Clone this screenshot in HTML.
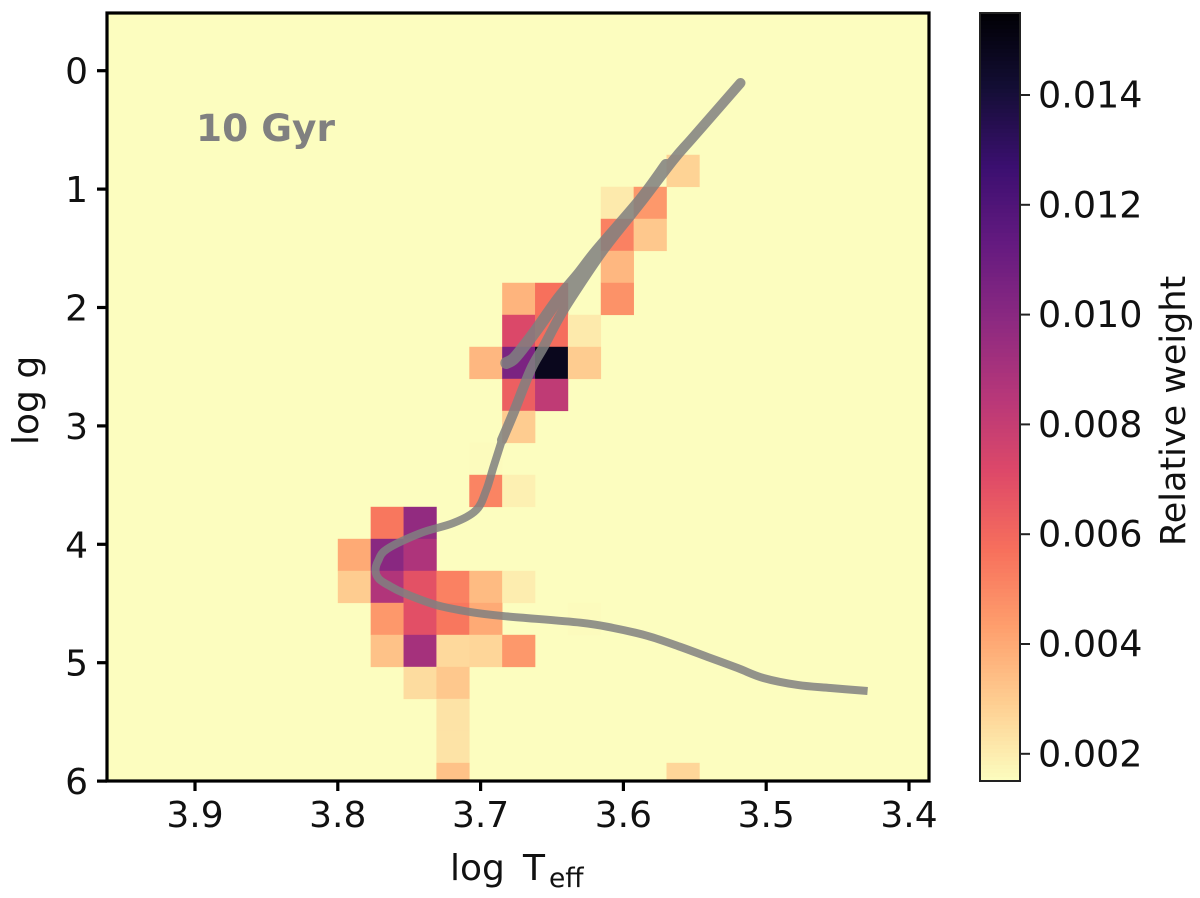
<!DOCTYPE html>
<html lang="en">
<head>
<meta charset="utf-8">
<title>10 Gyr log g vs log Teff weight map</title>
<style>
html,body{margin:0;padding:0;background:#fff;}
svg{display:block;font-family:"DejaVu Sans",sans-serif;fill:#111;}
</style>
</head>
<body>
<svg id="chart" xmlns="http://www.w3.org/2000/svg" width="1200" height="898" viewBox="0 0 1200 898">
<defs><clipPath id="axes-clip"><rect x="107" y="13" width="822" height="768"/></clipPath></defs>
<g id="plot" clip-path="url(#axes-clip)"></g>
<g id="frame"></g>
<text x="196" y="141" font-size="37.5" font-weight="bold" style="fill:#808080">10 Gyr</text>
<text transform="translate(38,445) rotate(-90)" font-size="36">log g</text>
<g>
<text x="450" y="880" font-size="36">log</text>
<text x="523" y="880" font-size="36">T</text>
<text x="549" y="887" font-size="26.5">eff</text>
</g>
<g id="colorbar"></g>
<text transform="translate(1185,546) rotate(-90)" font-size="35">Relative weight</text>
</svg>
<script>
// Axis ticks
const xTicks = [3.9, 3.8, 3.7, 3.6, 3.5, 3.4];
const yTicks = [0, 1, 2, 3, 4, 5, 6];
const colorTicks = [0.002, 0.004, 0.006, 0.008, 0.010, 0.012, 0.014];

// Histogram bins (first edge and width, in data units)
const logTeffFirstEdge = 3.8;
const logTeffBinWidth = 0.02302;
const logGFirstEdge = 0.71;
const logGBinWidth = 0.2703;

// Relative weight per bin: rows increase in log g, columns decrease in log Teff
const weights = [
  [0,0,0,0,0,0,0,0,0,0,.0028],
  [0,0,0,0,0,0,0,0,.0021,.0045,0],
  [0,0,0,0,0,0,0,0,.0052,.0031,0],
  [0,0,0,0,0,0,0,0,.0036,0,0],
  [0,0,0,0,0,.0037,.0057,0,.0047,0,0],
  [0,0,0,0,0,.0072,.0058,.0021,0,0,0],
  [0,0,0,0,.0036,.0105,.0148,.0030,0,0,0],
  [0,0,0,0,0,.0063,.0082,0,0,0,0],
  [0,0,0,0,0,.0030,0,0,0,0,0],
  [0,0,0,0,.00158,0,0,0,0,0,0],
  [0,0,0,0,.0051,.0019,0,0,0,0,0],
  [0,.0055,.0097,0,0,0,0,0,0,0,0],
  [.0040,.0100,.0088,0,0,0,0,0,0,0,0],
  [.0030,.0087,.0068,.0052,.0035,.0020,0,0,0,0,0],
  [0,.0045,.0069,.0055,.0040,0,0,.00156,0,0,0],
  [0,.0033,.0091,.0026,.0027,.0045,0,0,0,0,0],
  [0,0,.0025,.0031,0,0,0,0,0,0,0],
  [0,0,0,.0023,0,0,0,0,0,0,0],
  [0,0,0,.0023,0,0,0,0,0,0,0],
  [0,0,0,.0033,0,0,0,0,0,0,.0027]
];

// Isochrone main sequence and subgiant section
const lowerLogTeff = [3.429,3.455,3.478,3.502,3.520,3.541,3.560,3.583,3.607,3.630,3.684,3.707,3.731,3.754,3.7648,3.7711,3.7736,3.7718,3.7655,3.742,3.719,3.703,3.696,3.691,3.685];
const lowerLogG = [5.239,5.214,5.188,5.129,5.045,4.952,4.867,4.774,4.707,4.662,4.606,4.572,4.513,4.411,4.344,4.293,4.225,4.141,4.040,3.905,3.820,3.710,3.541,3.347,3.119];
// Isochrone red giant branch
const giantLogTeff = [3.685,3.677,3.665,3.656,3.646,3.6367,3.614,3.588,3.565,3.551,3.518];
const giantLogG = [3.119,2.891,2.528,2.334,2.106,1.920,1.514,1.117,0.754,0.560,0.104];
// Isochrone upper branch
const branchLogTeff = [3.682,3.677,3.670,3.661,3.6451,3.6311,3.618,3.588,3.570];
const branchLogG = [2.469,2.435,2.334,2.190,1.920,1.717,1.514,1.092,0.796];

// magma colormap anchors
const magmaStops = ['#000004','#140e36','#3b0f70','#641a80','#8c2981','#b73779','#de4968','#f7705c','#fe9f6d','#fecf92','#fcfdbf'];

const xScale = v => 195 + (3.9 - v) * 1428;
const yScale = v => 70.7 + v * 118.4;
const colorMin = 0.00151, colorMax = 0.01549;
const colorY = v => 95 + (0.014 - v) / 0.002 * 109.8;

const NS = 'http://www.w3.org/2000/svg';
function mk(tag, parent, attrs) {
  const el = document.createElementNS(NS, tag);
  for (const k in attrs) el.setAttribute(k, attrs[k]);
  parent.appendChild(el);
  return el;
}
function hex(c){return [1,3,5].map(i=>parseInt(c.substr(i,2),16));}
function magmaR(t){
  const m = Math.max(0, Math.min(1, 1 - t)) * (magmaStops.length - 1);
  const i = Math.min(Math.floor(m), magmaStops.length - 2);
  const a = hex(magmaStops[i]), b = hex(magmaStops[i + 1]), f = m - i;
  return 'rgb(' + a.map((c, j) => Math.round(c + (b[j] - c) * f)).join(',') + ')';
}
const colorOf = v => magmaR((v - colorMin) / (colorMax - colorMin));

const plot = document.getElementById('plot');
const bg = mk('rect', plot, {x:107, y:13, width:822, height:768, fill:colorOf(colorMin)});



weights.forEach((row, r) => row.forEach((v, c) => {
  if (!v) return;
  const x0 = xScale(logTeffFirstEdge - c * logTeffBinWidth), x1 = xScale(logTeffFirstEdge - (c + 1) * logTeffBinWidth);
  const y0 = yScale(logGFirstEdge + r * logGBinWidth), y1 = yScale(logGFirstEdge + (r + 1) * logGBinWidth);
  const cell = mk('rect', plot, {x:x0, y:y0, width:x1 - x0 + .3, height:y1 - y0 + .3, fill:colorOf(v)});
  
  
}));

function smoothPath(xs, ys){
  const p = xs.map((x, i) => [xScale(x), yScale(ys[i])]);
  let d = 'M' + p[0][0] + ' ' + p[0][1];
  for (let i = 0; i < p.length - 1; i++) {
    const a = p[Math.max(i - 1, 0)], b = p[i], c = p[i + 1], e = p[Math.min(i + 2, p.length - 1)];
    d += ' C' + (b[0] + (c[0] - a[0]) / 6) + ' ' + (b[1] + (c[1] - a[1]) / 6) + ' ' +
         (c[0] - (e[0] - b[0]) / 6) + ' ' + (c[1] - (e[1] - b[1]) / 6) + ' ' + c[0] + ' ' + c[1];
  }
  return d;
}
const lineGroup = mk('g', plot, {opacity:.85});


const lowerTrack = mk('path', lineGroup, {d:smoothPath(lowerLogTeff, lowerLogG), fill:'none', stroke:'#808080', 'stroke-width':8, 'stroke-linecap':'butt', 'stroke-linejoin':'round'});


const giantTrack = mk('path', lineGroup, {d:smoothPath(giantLogTeff, giantLogG), fill:'none', stroke:'#808080', 'stroke-width':10, 'stroke-linecap':'round', 'stroke-linejoin':'round'});


const branch = mk('path', lineGroup, {d:smoothPath(branchLogTeff, branchLogG), fill:'none', stroke:'#808080', 'stroke-width':12, 'stroke-linecap':'round', 'stroke-linejoin':'round'});



const frame = document.getElementById('frame');
const spine = mk('rect', frame, {x:107, y:13, width:822, height:768, fill:'none', stroke:'#000', 'stroke-width':3.2});



xTicks.forEach(v => {
  const x = xScale(v);
  const tick = mk('line', frame, {x1:x, x2:x, y1:781, y2:791, stroke:'#000', 'stroke-width':3.2});
  
  
  const label = mk('text', frame, {x:x, y:827, 'text-anchor':'middle', 'font-size':36});
  label.textContent = v.toFixed(1);
  
  
});
yTicks.forEach(v => {
  const y = yScale(v);
  const tick = mk('line', frame, {x1:97, x2:107, y1:y, y2:y, stroke:'#000', 'stroke-width':3.2});
  
  
  const label = mk('text', frame, {x:88, y:y + 13, 'text-anchor':'end', 'font-size':36});
  label.textContent = String(v);
  
  
});

const bar = document.getElementById('colorbar');
for (let i = 0; i < 192; i++) {
  const top = 13 + i * 4;
  const v = colorMax - (colorMax - colorMin) * (i + .5) / 192;
  const seg = mk('rect', bar, {x:980, y:top, width:40, height:4.3, fill:colorOf(v)});
  
  
}
const barFrame = mk('rect', bar, {x:980, y:13, width:40, height:768, fill:'none', stroke:'#222', 'stroke-width':2});


colorTicks.forEach(v => {
  const y = colorY(v);
  const tick = mk('line', bar, {x1:1020, x2:1030, y1:y, y2:y, stroke:'#222', 'stroke-width':2});
  
  
  const label = mk('text', bar, {x:1038, y:y + 12.5, 'font-size':36.5});
  label.textContent = v.toFixed(3);
  
  
});
</script>
</body>
</html>
